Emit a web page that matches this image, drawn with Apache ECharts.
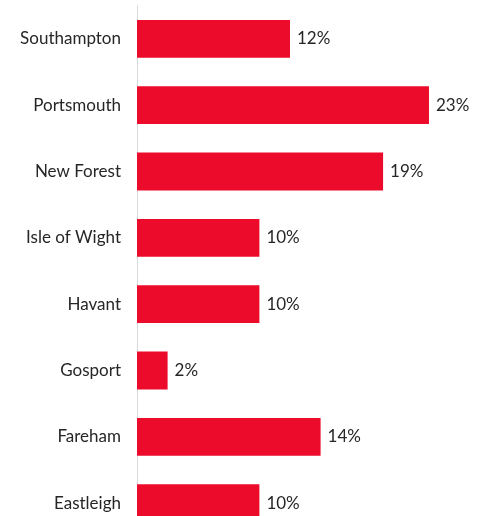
<!DOCTYPE html>
<html>
<head>
<meta charset="utf-8">
<script src="https://cdn.jsdelivr.net/npm/echarts@6/dist/echarts.min.js"></script>
<style>
html,body{margin:0;padding:0;background:#fff;}
#chart{width:481px;height:516px;}
</style>
</head>
<body>
<div id="chart"></div>
<script>
const categories = ["Southampton", "Portsmouth", "New Forest", "Isle of Wight", "Havant", "Gosport", "Fareham", "Eastleigh"];
const values = [12.0, 22.9, 19.3, 9.6, 9.6, 2.4, 14.4, 9.6];

const chart = echarts.init(document.getElementById('chart'));
chart.setOption({
  animation: false,
  grid: { left: 137, width: 318.75, top: 5.7, height: 530.6, containLabel: false, outerBoundsMode: 'none' },
  xAxis: {
    type: 'value', min: 0, max: 25,
    show: false, splitLine: { show: false }
  },
  yAxis: {
    type: 'category', data: categories, inverse: true,
    axisLine: { show: true, lineStyle: { color: '#d9d9d9', width: 1 } },
    axisTick: { show: false },
    axisLabel: { color: '#262626', fontSize: 17, fontFamily: 'Lato, sans-serif', margin: 16 }
  },
  series: [{
    type: 'bar',
    data: values,
    barCategoryGap: '43%',
    itemStyle: { color: '#EC0B2B' },
    label: {
      show: true, position: 'right', distance: 7,
      color: '#262626', fontSize: 17, fontFamily: 'Lato, sans-serif',
      formatter: p => Math.round(p.value) + '%'
    }
  }]
});
</script>
</body>
</html>
